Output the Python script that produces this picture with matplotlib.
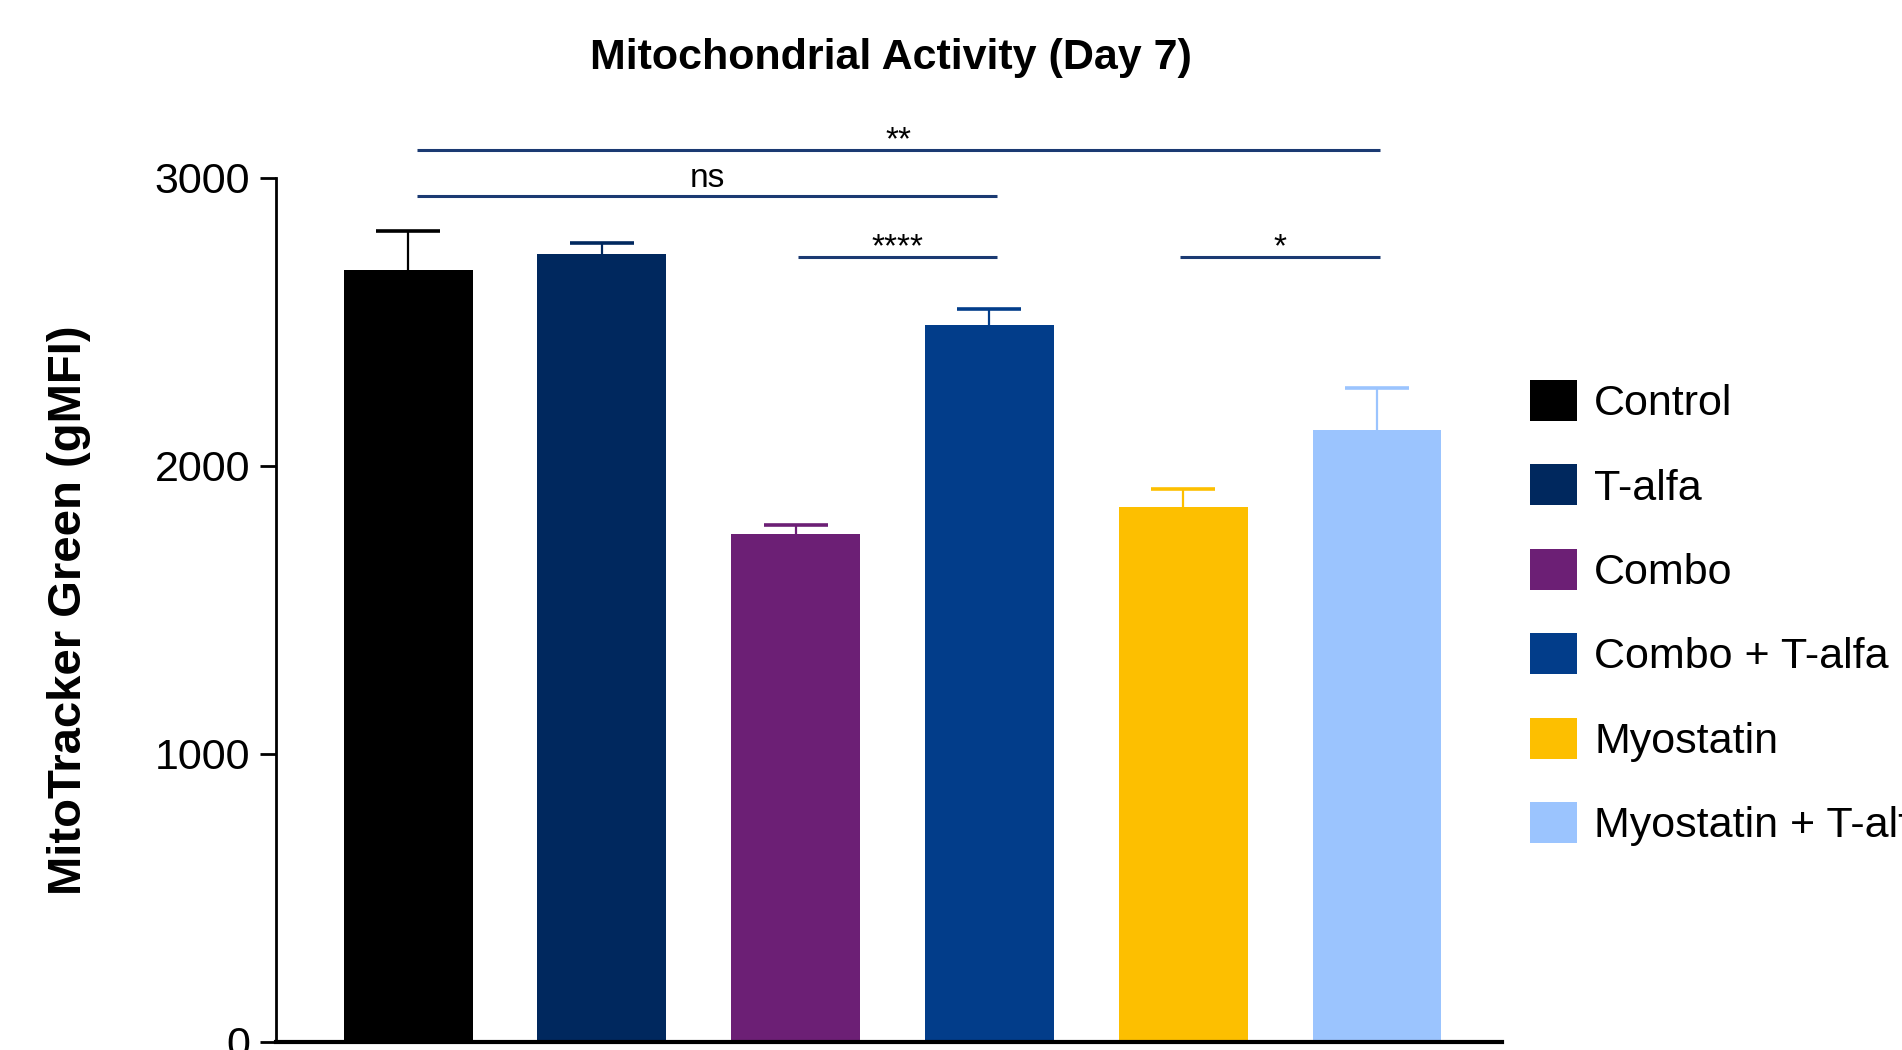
import matplotlib
matplotlib.use("Agg")
import matplotlib.pyplot as plt
import numpy as np

plt.rcParams['font.family'] = ['Liberation Sans', 'DejaVu Sans']

# data
groups = ["Control", "T-alfa", "Combo", "Combo + T-alfa", "Myostatin", "Myostatin + T-alfa"]
means = [2680, 2735, 1763, 2488, 1857, 2123]
errors = [135, 37, 30, 55, 63, 147]
colors = ["#000000", "#00285e", "#6c1f75", "#023d8a", "#fdbf00", "#9bc4fe"]

# significance brackets: (left group, right group, y, label)
sig_pairs = [(0, 5, 3095, "**"), (0, 3, 2935, "ns"), (2, 3, 2726, "****"), (4, 5, 2726, "*")]
# small nudges of the bracket ends, as drawn in the original
sig_nudge = [(0.045, 0.015), (0.045, 0.04), (0.01, 0.04), (-0.015, 0.015)]
sig_color = "#1b3a72"

fig = plt.figure(figsize=(19.02, 10.50), dpi=100)
ax = fig.add_axes([0.145, 0.0079, 0.6445, 0.8229])

x = np.arange(len(groups))
bars = ax.bar(x, means, width=0.665, color=colors, label=groups, zorder=2)
for i in range(len(groups)):
    eb = ax.errorbar(x[i], means[i], yerr=[[0], [errors[i]]], color=colors[i],
                     elinewidth=1.6, capsize=22.7, capthick=2.6, zorder=1)
    # only the upper cap is shown
    for cap in eb[1]:
        if abs(cap.get_ydata()[0] - means[i]) < 1e-6:
            cap.set_visible(False)

for (a, b, y, lab), (d1, d2) in zip(sig_pairs, sig_nudge):
    ax.plot([x[a] + d1, x[b] + d2], [y, y], color=sig_color, lw=2.2, clip_on=False,
            solid_capstyle='butt')
    off = 31 if lab == "ns" else 2
    ax.text((x[a] + d1 + x[b] + d2) / 2, y + off, lab, ha='center', va='baseline',
            fontsize=24, clip_on=False)

ax.set_xlim(-0.683, 5.643)
ax.set_ylim(0, 3000)
ax.set_yticks([0, 1000, 2000, 3000])
ax.set_xticks([])
ax.tick_params(axis='y', labelsize=31, length=11.5, width=2, pad=7)
ax.spines['top'].set_visible(False)
ax.spines['right'].set_visible(False)
ax.spines['left'].set_linewidth(2)
ax.spines['bottom'].set_linewidth(3)

fig.text(891 / 1902, 1 - 58 / 1050, "Mitochondrial Activity (Day 7)",
         ha='center', va='center', fontsize=31, fontweight='bold')
fig.text(69 / 1902, 1 - 610 / 1050, "MitoTracker Green (gMFI)",
         ha='center', va='center', rotation=90, fontsize=34, fontweight='bold')

leg = ax.legend(handles=bars.patches, labels=groups, loc='upper left',
                bbox_to_anchor=(1530 / 1902, 1 - 380 / 1050),
                bbox_transform=fig.transFigure, frameon=False, fontsize=31,
                handlelength=1.09, handleheight=1.09, handletextpad=0.4,
                labelspacing=0.935, borderpad=0, borderaxespad=0)

fig.savefig("out.png", dpi=100)
